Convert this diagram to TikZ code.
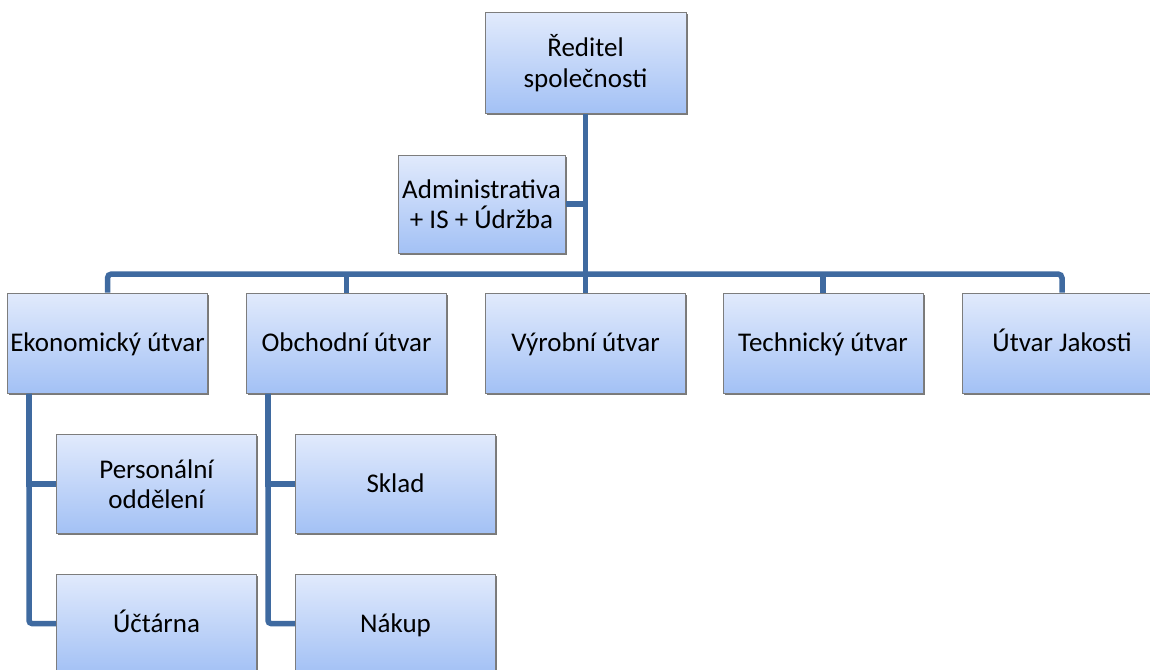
\documentclass[tikz,border=0pt]{standalone}
\usepackage{fontspec}
\setmainfont{Carlito}
\usetikzlibrary{calc,shadows}
\definecolor{linkblue}{RGB}{63,106,160}
\definecolor{boxtop}{RGB}{225,234,252}
\definecolor{boxbot}{RGB}{163,193,245}
\definecolor{boxedge}{RGB}{125,125,125}
\tikzset{
  unit/.style={draw=boxedge, line width=1pt, top color=boxtop, bottom color=boxbot,
    minimum width=200pt, minimum height=99pt, inner sep=1pt, align=center,
    font=\fontsize{27}{30.5}\selectfont, text=black,
    drop shadow={shadow xshift=1.5pt, shadow yshift=-1.5pt, opacity=0.7, fill=black!75}},
  oneline/.style={text height=23pt, text depth=5.5pt},
  link/.style={draw=linkblue, line width=5.5pt},
}
\begin{document}
\begin{tikzpicture}[x=1pt, y=-1pt]
  \useasboundingbox (0,0) rectangle (1150,669);
  \clip (0,0) rectangle (1150,669);
  % top management
  \node[unit, minimum width=201pt, minimum height=100pt] (dir) at (585.5,63) {Ředitel\\společnosti};
  \node[unit, minimum width=167pt, minimum height=98pt] (adm) at (481.5,204) {Administrativa\\+ IS + Údržba};
  % departments
  \node[unit, oneline, minimum height=100pt] (eko)  at (107.5,343) {Ekonomický útvar};
  \node[unit, oneline, minimum height=100pt] (obch) at (346.5,343) {Obchodní útvar};
  \node[unit, oneline, minimum height=100pt] (vyr)  at (585.5,343) {Výrobní útvar};
  \node[unit, oneline, minimum height=100pt] (tech) at (823,343)   {Technický útvar};
  \node[unit, oneline, minimum height=100pt] (jak)  at (1062,343)  {Útvar Jakosti};
  % sub-units
  \node[unit] (pers)  at (156.5,484)   {Personální\\oddělení};
  \node[unit, oneline] (ucet)  at (156.5,623.5) {Účtárna};
  \node[unit, oneline] (sklad) at (395.5,484)   {Sklad};
  \node[unit, oneline] (nakup) at (395.5,623.5) {Nákup};
  % connector helpers
  \coordinate (bus) at (0,274);
  \coordinate (ekstem) at ($(eko.south west)+(22,0)$);
  \coordinate (obstem) at ($(obch.south west)+(22,0)$);
  % connectors
  \draw[link] (dir.south) -- (vyr.north);
  \draw[link] (adm.east) -- (adm.east -| dir.south);
  \draw[link, rounded corners=4pt] (eko.north) -- (eko.north |- bus) -- (jak.north |- bus) -- (jak.north);
  \draw[link] (obch.north) -- (obch.north |- bus);
  \draw[link] (tech.north) -- (tech.north |- bus);
  \draw[link] (ekstem) |- (pers.west);
  \draw[link, rounded corners=3pt] (ekstem) |- (ucet.west);
  \draw[link] (obstem) |- (sklad.west);
  \draw[link, rounded corners=3pt] (obstem) |- (nakup.west);
\end{tikzpicture}
\end{document}
